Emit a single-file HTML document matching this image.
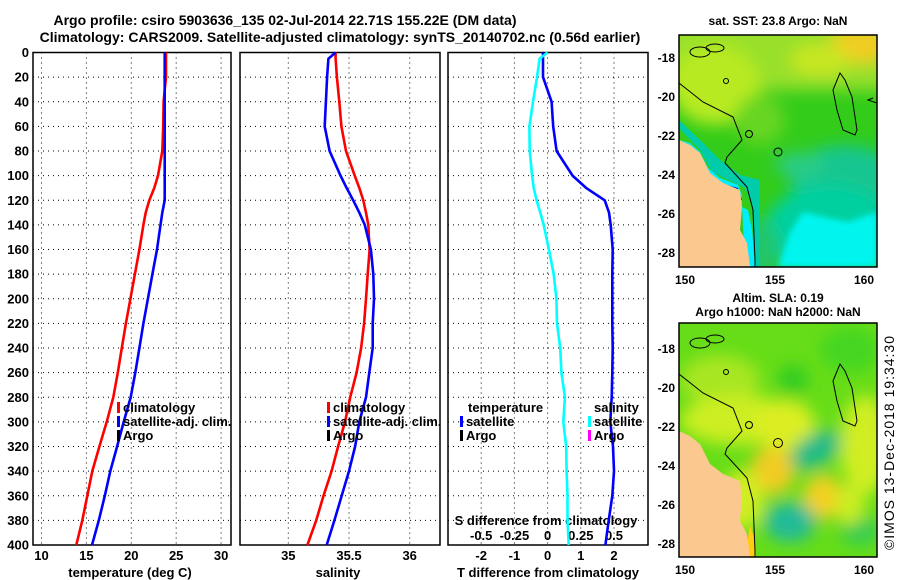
<!DOCTYPE html>
<html><head><meta charset="utf-8">
<style>
html,body{margin:0;padding:0;background:#fff;}
svg{display:block;font-family:"Liberation Sans",Arial,sans-serif;font-weight:bold;}
</style></head>
<body>
<svg id="chart" width="900" height="580" viewBox="0 0 900 580" xmlns="http://www.w3.org/2000/svg">
<defs>
<filter id="blur6" x="-50%" y="-50%" width="200%" height="200%"><feGaussianBlur stdDeviation="8"/></filter>
<filter id="blur3" x="-50%" y="-50%" width="200%" height="200%"><feGaussianBlur stdDeviation="3"/></filter>
<clipPath id="clipMap1"><rect x="679" y="35" width="198" height="232"/></clipPath>
<clipPath id="clipMap2"><rect x="679" y="323" width="198" height="234"/></clipPath>
</defs>
<text x="285" y="25" font-size="14" text-anchor="middle">Argo profile: csiro 5903636_135 02-Jul-2014 22.71S 155.22E (DM data)</text>
<text x="340" y="42" font-size="14" text-anchor="middle">Climatology: CARS2009. Satellite-adjusted climatology: synTS_20140702.nc (0.56d earlier)</text>
<g id="panels"></g>

<!-- SST map -->
<g>
<text x="778" y="25" font-size="12" text-anchor="middle">sat. SST: 23.8 Argo: NaN</text>
<g clip-path="url(#clipMap1)">
<rect x="679" y="35" width="198" height="232" fill="#33cc1a"/>
<g filter="url(#blur6)">
<rect x="660" y="20" width="240" height="70" fill="#99e02a"/>
<ellipse cx="715" cy="85" rx="45" ry="40" fill="#b8ea22"/>
<ellipse cx="860" cy="45" rx="30" ry="18" fill="#f2cc22"/>
<ellipse cx="820" cy="60" rx="30" ry="16" fill="#c8e622"/>
<ellipse cx="760" cy="120" rx="25" ry="25" fill="#66d622"/>
<ellipse cx="845" cy="180" rx="55" ry="35" fill="#18c690"/>
<ellipse cx="830" cy="230" rx="65" ry="45" fill="#00d0a0"/>
<ellipse cx="800" cy="165" rx="25" ry="12" fill="#2acc88"/>
<ellipse cx="760" cy="250" rx="18" ry="30" fill="#22c466"/>
</g>
<polygon points="778,267 790,232 803,212 828,218 848,222 877,212 877,267" fill="#00f5ee" filter="url(#blur3)"/>
<polygon points="679,128 700,150 712,172 728,180 745,188 752,205 756,267 760,267 760,180 740,175 720,160 700,140 679,120" fill="#00ccaa"/>
<polygon points="679,140 690,143 700,152 708,168 720,178 738,185 742,195 742,207 748,210 752,230 755,267 745,267 742,205 728,195 712,180 700,160" fill="#00eeff"/>
<polygon points="720,183 738,188 742,200 735,198" fill="#0018cc"/>
<polygon points="679,140 690,145 700,153 710,173 723,183 740,190 742,207 740,230 747,243 750,267 679,267" fill="#fbc890"/>
<g fill="none" stroke="#000" stroke-width="1">
<polyline points="679,83 703,102 733,117 742,140 727,157 725,163 747,187 753,210 755,260 755,267"/>
<polygon points="833,90 840,73 845,80 852,97 857,130 855,135 843,130 837,110"/>
<circle cx="778" cy="152" r="4"/>
<circle cx="749" cy="134" r="3.5"/>
<circle cx="726" cy="81" r="2.5"/>
<ellipse cx="700" cy="52" rx="10" ry="5"/>
<ellipse cx="715" cy="48" rx="9" ry="4"/>
<polyline points="877,103 868,100 873,98"/>
</g>
</g>
<rect x="679" y="35" width="198" height="232" fill="none" stroke="#000" stroke-width="1.5"/>
<g font-size="12">
<text x="675" y="62" text-anchor="end">-18</text><text x="675" y="101" text-anchor="end">-20</text><text x="675" y="140" text-anchor="end">-22</text><text x="675" y="179" text-anchor="end">-24</text><text x="675" y="218" text-anchor="end">-26</text><text x="675" y="257" text-anchor="end">-28</text>
</g>
<g font-size="12" text-anchor="middle">
<text x="685" y="284">150</text><text x="775" y="284">155</text><text x="864" y="284">160</text>
</g>
</g>

<!-- SLA map -->
<g>
<text x="778" y="302" font-size="12" text-anchor="middle">Altim. SLA: 0.19</text>
<text x="778" y="316" font-size="12" text-anchor="middle">Argo h1000: NaN h2000: NaN</text>
<g clip-path="url(#clipMap2)">
<rect x="679" y="323" width="198" height="234" fill="#66dd18"/>
<g filter="url(#blur6)">
<ellipse cx="720" cy="380" rx="40" ry="25" fill="#a8e622"/>
<ellipse cx="740" cy="420" rx="60" ry="25" fill="#ccee22"/>
<ellipse cx="865" cy="445" rx="25" ry="50" fill="#d0ee22"/>
<ellipse cx="850" cy="350" rx="30" ry="22" fill="#44d622"/>
<ellipse cx="773" cy="470" rx="22" ry="24" fill="#f2cc22"/>
<ellipse cx="785" cy="425" rx="30" ry="25" fill="#dcee22"/>
<ellipse cx="823" cy="497" rx="20" ry="22" fill="#f4d022"/>
<ellipse cx="793" cy="380" rx="15" ry="15" fill="#33cc22"/>
<ellipse cx="816" cy="450" rx="28" ry="16" fill="#22bb88" transform="rotate(-30 816 450)"/>
<ellipse cx="790" cy="522" rx="26" ry="20" fill="#22bb99"/>
<ellipse cx="860" cy="530" rx="20" ry="15" fill="#33cc55"/>
<ellipse cx="742" cy="500" rx="22" ry="30" fill="#d0ee22"/>
<ellipse cx="850" cy="505" rx="15" ry="20" fill="#ccee22"/>
</g>
<polygon points="750,525 755,540 756,557 745,557" fill="#ffcc11"/>
<polygon points="679,431 690,436 700,444 710,464 723,474 740,481 742,498 740,521 747,534 750,557 679,557" fill="#fbc890"/>
<g fill="none" stroke="#000" stroke-width="1">
<polyline points="679,374 703,393 733,408 742,431 727,448 725,454 747,478 753,501 755,551 755,557"/>
<polygon points="833,381 840,364 845,371 852,388 857,421 855,426 843,421 837,401"/>
<circle cx="778" cy="443" r="4.5"/>
<circle cx="749" cy="425" r="3.5"/>
<circle cx="726" cy="372" r="2.5"/>
<ellipse cx="700" cy="343" rx="10" ry="5"/>
<ellipse cx="715" cy="339" rx="9" ry="4"/>
</g>
</g>
<rect x="679" y="323" width="198" height="234" fill="none" stroke="#000" stroke-width="1.5"/>
<g font-size="12">
<text x="675" y="353" text-anchor="end">-18</text><text x="675" y="392" text-anchor="end">-20</text><text x="675" y="431" text-anchor="end">-22</text><text x="675" y="470" text-anchor="end">-24</text><text x="675" y="509" text-anchor="end">-26</text><text x="675" y="548" text-anchor="end">-28</text>
</g>
<g font-size="12" text-anchor="middle">
<text x="685" y="574">150</text><text x="775" y="574">155</text><text x="864" y="574">160</text>
</g>
</g>
<text x="0" y="0" font-size="14" font-weight="normal" textLength="214" transform="translate(894,550) rotate(-90)">©IMOS 13-Dec-2018 19:34:30</text>
</svg>
<script>
const depths = [0,5,20,40,60,80,100,110,120,130,140,160,180,200,220,240,260,280,300,320,340,360,380,400];
const tempClim = [23.86,23.86,23.86,23.6,23.55,23.45,22.97,22.56,22.0,21.6,21.35,20.9,20.4,19.9,19.4,18.94,18.5,18.0,17.26,16.45,15.66,15.1,14.54,13.88];
const tempSat = [23.72,23.72,23.72,23.72,23.72,23.72,23.72,23.72,23.72,23.45,23.25,22.86,22.35,21.85,21.35,20.9,20.45,19.93,19.15,18.42,17.66,17.05,16.38,15.62];
const salClim = [35.39,35.39,35.40,35.42,35.437,35.475,35.547,35.585,35.618,35.64,35.659,35.67,35.654,35.64,35.624,35.60,35.563,35.51,35.467,35.41,35.357,35.29,35.23,35.157];
const salSat = [35.39,35.33,35.32,35.31,35.30,35.34,35.43,35.48,35.535,35.585,35.63,35.68,35.70,35.706,35.695,35.695,35.667,35.64,35.585,35.55,35.50,35.44,35.38,35.316];
const depthTicks = [0,20,40,60,80,100,120,140,160,180,200,220,240,260,280,300,320,340,360,380,400];
const tempTicks = [10,15,20,25,30];
const salTicks = [35,35.5,36];
const salTickLabels = ["35","35.5","36"];
const diffTicks = [-2,-1,0,1,2];
const sDiffTicks = [-0.5,-0.25,0,0.25,0.5];
const sDiffLabels = ["-0.5","-0.25","0","0.25","0.5"];

const NS = "http://www.w3.org/2000/svg";
const root = document.getElementById('panels');
const yTop = 52.5, yBot = 545;
const yS = d => yTop + d * (yBot - yTop) / 400;
const xT = t => 41.5 + (t - 10) * 8.98;
const xS = s => 288.3 + (s - 35) * 121.4;
const xD = v => 547.6 + v * 33.2;
const xSD = v => 547.6 + v * 132.8;

function mk(tag, attrs, parent) {
  const e = document.createElementNS(NS, tag);
  for (const k in attrs) e.setAttribute(k, attrs[k]);
  (parent || root).appendChild(e);
  return e;
}
function txt(x, y, s, size, anchor) {
  const t = mk('text', {x: x, y: y, 'font-size': size, 'text-anchor': anchor || 'start'});
  t.textContent = s;
  return t;
}
const panels = [[33, 231], [240, 440], [448, 648]];
panels.forEach((p, i) => {
  const g = mk('g', {});
  
  
  depthTicks.forEach(d => {
    if (d === 0 || d === 400) return;
    const l = mk('line', {x1: p[0], x2: p[1], y1: yS(d), y2: yS(d), stroke: '#000', 'stroke-width': 1, 'stroke-dasharray': '1,4'}, g);
    
    
  });
  let xs = [];
  if (i === 0) xs = tempTicks.map(xT);
  if (i === 1) xs = salTicks.map(xS);
  if (i === 2) xs = diffTicks.map(xD);
  xs.forEach(x => {
    const l = mk('line', {x1: x, x2: x, y1: yTop, y2: yBot, stroke: '#000', 'stroke-width': 1, 'stroke-dasharray': '1,4'}, g);
    
    
  });
  const r = mk('rect', {x: p[0], y: yTop, width: p[1] - p[0], height: yBot - yTop, fill: 'none', stroke: '#000', 'stroke-width': 1.5}, g);
  
  
});
depthTicks.forEach(d => {
  const t = txt(29, yS(d) + 4.5, String(d), 13, 'end');
  
  
});
tempTicks.forEach(v => {
  const t = txt(xT(v), 560, String(v), 13, 'middle');
  
  
});
salTicks.forEach((v, i) => {
  const t = txt(xS(v), 560, salTickLabels[i], 13, 'middle');
  
  
});
diffTicks.forEach(v => {
  const t = txt(xD(v), 560, String(v), 13, 'middle');
  
  
});
sDiffTicks.forEach((v, i) => {
  const t = txt(xSD(v), 540, sDiffLabels[i], 13, 'middle');
  
  
});
let a;
a = txt(130, 577, 'temperature (deg C)', 13, 'middle');


a = txt(338, 577, 'salinity', 13, 'middle');


a = txt(548, 577, 'T difference from climatology', 13, 'middle');


a = txt(546, 525, 'S difference from climatology', 13, 'middle');



function series(vals, xf, color, name) {
  const pts = depths.map((d, i) => xf(vals[i]).toFixed(1) + ',' + yS(d).toFixed(1)).join(' ');
  const pl = mk('polyline', {points: pts, fill: 'none', stroke: color, 'stroke-width': 2.6, 'stroke-linejoin': 'round'});
  
  
}
series(tempClim, xT, '#ff0000', 'temperature-climatology-line');
series(tempSat, xT, '#0000ff', 'temperature-satellite-line');
series(salClim, xS, '#ff0000', 'salinity-climatology-line');
series(salSat, xS, '#0000ff', 'salinity-satellite-line');
const tDiff = tempSat.map((v, i) => v - tempClim[i]);
const sDiff = salSat.map((v, i) => v - salClim[i]);
series(tDiff, xD, '#0000ff', 't-diff-satellite-line');
series(sDiff, xSD, '#00ffff', 's-diff-satellite-line');

function legend(x, y, color, label, name) {
  const m = mk('rect', {x: x, y: y - 10, width: 3, height: 11, fill: color});
  
  
  const t = txt(x + 6, y, label, 13);
  
  
}
legend(117, 412, '#ff0000', 'climatology', 'legend-climatology');
legend(117, 426, '#0000ff', 'satellite-adj. clim.', 'legend-satellite');
legend(117, 440, '#000000', 'Argo', 'legend-argo');
legend(327, 412, '#ff0000', 'climatology', 'legend-climatology-2');
legend(327, 426, '#0000ff', 'satellite-adj. clim.', 'legend-satellite-2');
legend(327, 440, '#000000', 'Argo', 'legend-argo-2');
a = txt(468, 412, 'temperature', 13);


legend(460, 426, '#0000ff', 'satellite', 'legend-t-satellite');
legend(460, 440, '#000000', 'Argo', 'legend-t-argo');
a = txt(594, 412, 'salinity', 13);


legend(588, 426, '#00ffff', 'satellite', 'legend-s-satellite');
legend(588, 440, '#ff00ff', 'Argo', 'legend-s-argo');
</script>
</body></html>
